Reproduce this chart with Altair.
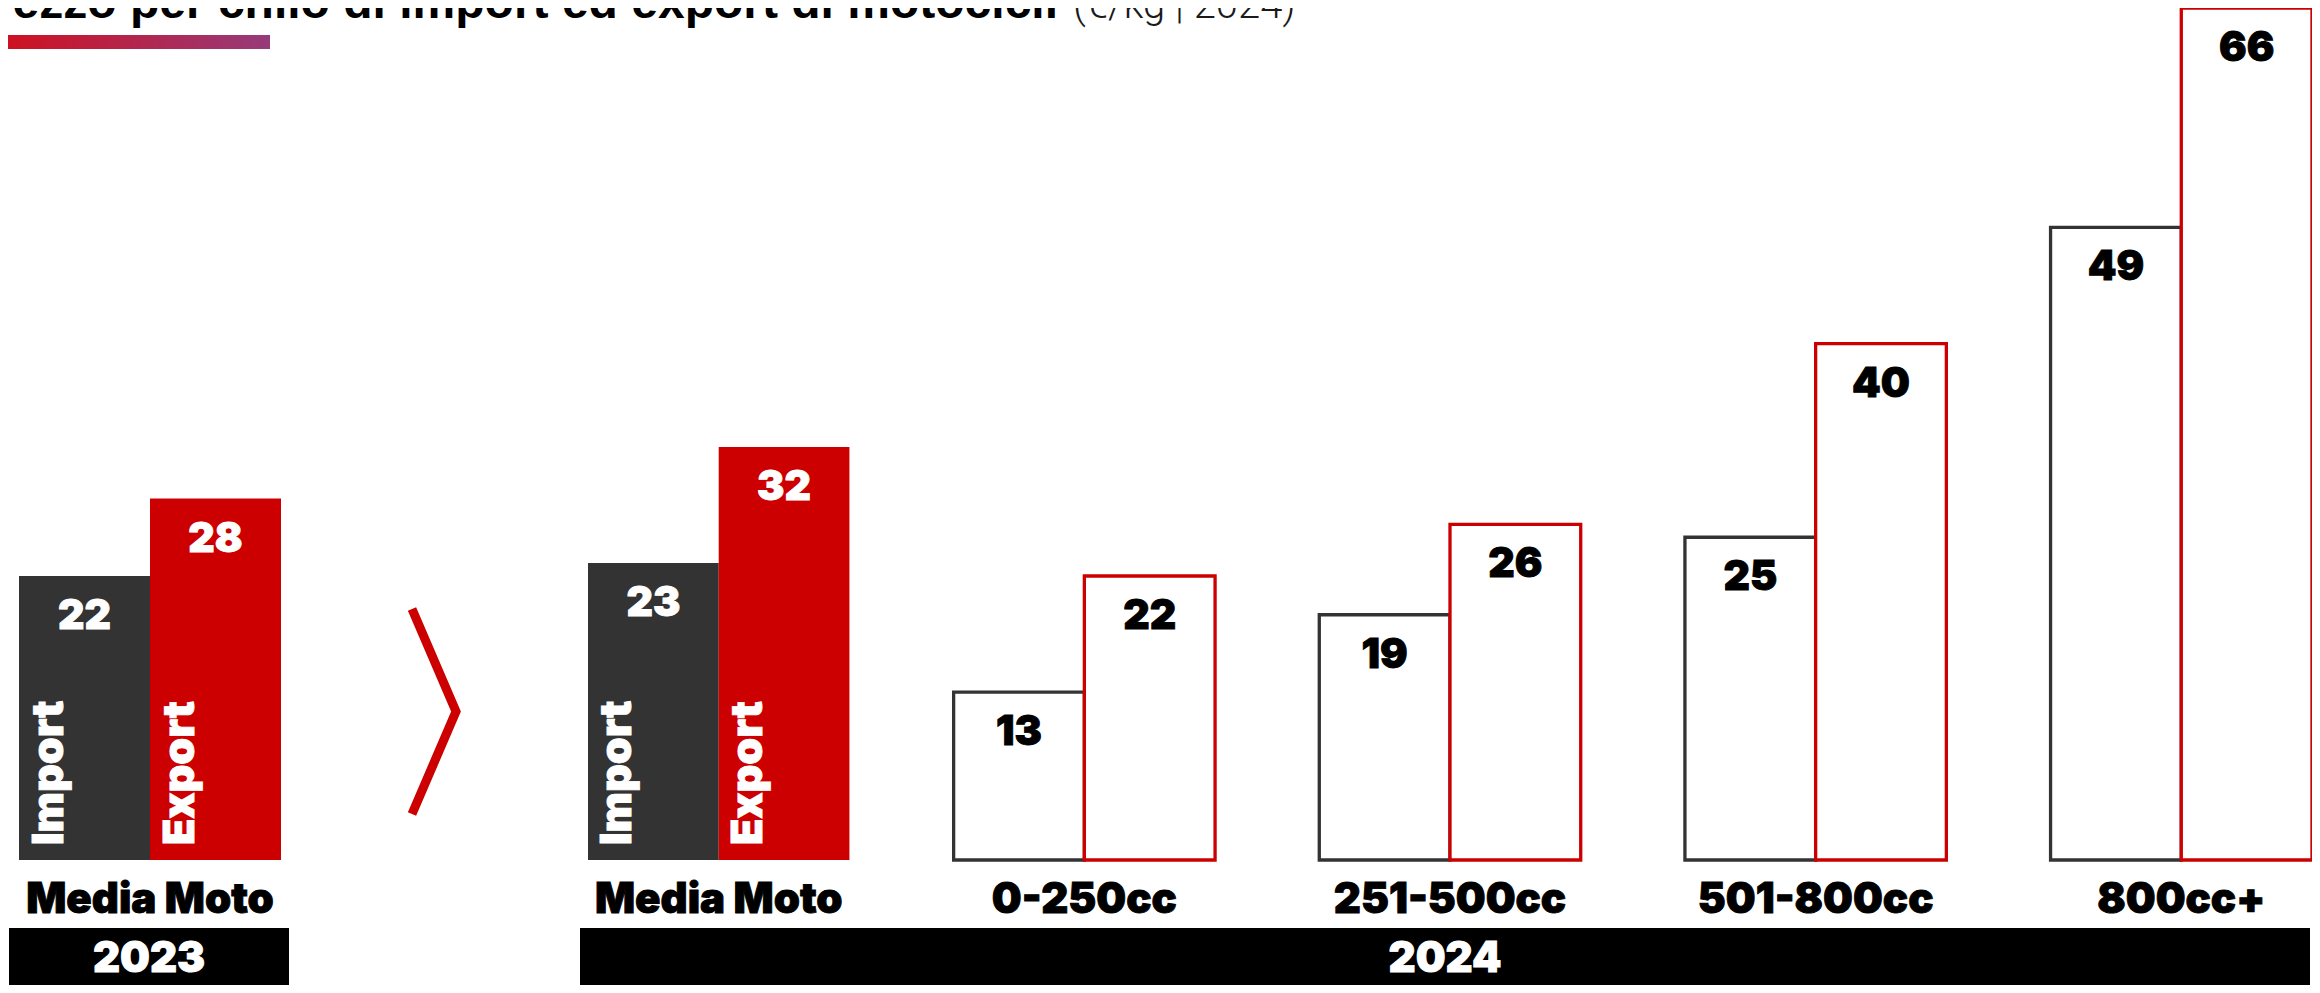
import altair as alt
import pandas as pd

# ---------------- data ----------------
series = ["Import", "Export"]

categories_2023 = ["Media Moto"]
import_2023 = [22]
export_2023 = [28]

categories_2024 = ["Media Moto", "0-250cc", "251-500cc", "501-800cc", "800cc+"]
import_2024 = [23, 13, 19, 25, 49]
export_2024 = [32, 22, 26, 40, 66]

years = ["2023", "2024"]

title_bold = "Prezzo per chilo di import ed export di motocicli"
title_light = "(€/kg | 2024)"

chevron_x = [0, 1, 0]
chevron_y = [0, 0.5, 1]


def make_df(cats, imp, exp):
    rows = []
    for c, i, e in zip(cats, imp, exp):
        rows.append({"category": c, "series": "Import", "value": i})
        rows.append({"category": c, "series": "Export", "value": e})
    return pd.DataFrame(rows)


df23 = make_df(categories_2023, import_2023, export_2023)
df24 = make_df(categories_2024, import_2024, export_2024)

# ---------------- style ----------------
W, H = 2304, 977
BASE = 852
RED = "#cc0000"
DARK = "#333333"
HEAVY = "Inter"
THICK = 0.9

y_scale = alt.Scale(domain=[0, 66], range=[BASE, 0], nice=False, zero=True)
fill_scale = alt.Scale(domain=["Import", "Export", "none"], range=[DARK, RED, "#ffffff"])
stroke_scale = alt.Scale(domain=series, range=[DARK, RED])


def panel(df, cats, x_range, pad_inner):
    xs = alt.Scale(domain=cats, range=x_range, paddingInner=pad_inner, paddingOuter=0)
    xenc = alt.X("category:N", sort=cats, scale=xs, axis=None)
    xoff = alt.XOffset("series:N", sort=series,
                       scale=alt.Scale(domain=series, paddingInner=0, paddingOuter=0))
    base = alt.Chart(df).transform_calculate(
        fillkey="datum.category == 'Media Moto' ? datum.series : 'none'"
    ).encode(x=xenc, xOffset=xoff)

    bars = base.mark_bar(strokeJoin="miter").encode(
        y=alt.Y("value:Q", scale=y_scale, axis=None),
        fill=alt.Fill("fillkey:N", scale=fill_scale, legend=None),
        stroke=alt.Stroke("series:N", scale=stroke_scale, legend=None),
        strokeWidth=alt.condition(alt.datum.category == "Media Moto",
                                  alt.value(0), alt.value(3.3)),
    )
    vals = base.mark_text(font=HEAVY, fontWeight=900, fontSize=41,
                          baseline="alphabetic", dy=53, strokeWidth=THICK).encode(
        y=alt.Y("value:Q", scale=y_scale, axis=None),
        text=alt.Text("value:Q"),
        fill=alt.condition(alt.datum.category == "Media Moto",
                           alt.value("#ffffff"), alt.value("#000000")),
        stroke=alt.condition(alt.datum.category == "Media Moto",
                             alt.value("#ffffff"), alt.value("#000000")),
    )
    names = base.transform_filter(alt.datum.category == "Media Moto").mark_text(
        font=HEAVY, fontWeight=900, fontSize=43, angle=270, align="left",
        baseline="alphabetic", dx=15, dy=-22, fill="#ffffff", stroke="#ffffff",
        strokeWidth=THICK
    ).encode(y=alt.value(BASE), text="series:N")

    cat_df = pd.DataFrame({"category": cats})
    labels = alt.Chart(cat_df).mark_text(
        font=HEAVY, fontWeight=900, fontSize=42, baseline="alphabetic",
        fill="#000000", stroke="#000000", strokeWidth=THICK
    ).encode(x=xenc, y=alt.value(905), text="category:N")
    return alt.layer(bars, vals, names, labels)


layer23 = panel(df23, categories_2023, [11, 273], 0)
layer24 = panel(df24, categories_2024, [580, 2304], 0.285)


# year boxes
def year_box(year, x0, x1):
    d = pd.DataFrame({"year": [year]})
    box = alt.Chart(d).mark_rect(color="#000000").encode(
        x=alt.value(x0), x2=alt.value(x1), y=alt.value(920), y2=alt.value(H))
    txt = alt.Chart(d).mark_text(font=HEAVY, fontWeight=900, fontSize=42,
                                 baseline="alphabetic", fill="#ffffff",
                                 stroke="#ffffff", strokeWidth=THICK).encode(
        x=alt.value((x0 + x1) / 2), y=alt.value(964), text="year:N")
    return box + txt


box23 = year_box(years[0], 1, 281)
box24 = year_box(years[1], 572, 2302)

# chevron
chev_df = pd.DataFrame({"cx": chevron_x, "cy": chevron_y, "idx": [0, 1, 2]})
chevron = alt.Chart(chev_df).mark_line(color=RED, strokeWidth=9, strokeJoin="miter",
                                        strokeCap="butt").encode(
    x=alt.X("cx:Q", scale=alt.Scale(domain=[0, 1], range=[404, 448], nice=False, zero=False), axis=None),
    y=alt.Y("cy:Q", scale=alt.Scale(domain=[0, 1], range=[601, 806], nice=False, zero=False), axis=None),
    order=alt.Order("idx:Q"),
)

# title + gradient bar
one = pd.DataFrame({"t1": [title_bold], "t2": [title_light]})
grad = alt.Chart(one).mark_rect(
    fill=alt.LinearGradient(gradient="linear",
                            stops=[alt.GradientStop(color="#cf1020", offset=0),
                                   alt.GradientStop(color="#963b7a", offset=1)],
                            x1=0, x2=1, y1=0, y2=0)
).encode(x=alt.value(-8), x2=alt.value(262), y=alt.value(27), y2=alt.value(41))

t_bold = alt.Chart(one).mark_text(font="Liberation Sans", fontWeight="bold", fontSize=48,
                                  align="right", baseline="alphabetic", color="#000000").encode(
    x=alt.value(1050), y=alt.value(10), text="t1:N")
t_light = alt.Chart(one).mark_text(font="Roboto", fontWeight=300, fontSize=40,
                                   align="left", baseline="alphabetic", color="#1a1a1a").encode(
    x=alt.value(1065), y=alt.value(10), text="t2:N")

chart = alt.layer(
    layer23, layer24, chevron, box23, box24, grad, t_bold, t_light
).resolve_scale(
    x="independent", xOffset="independent", y="independent"
).properties(
    width=W, height=H, padding=0,
    autosize=alt.AutoSizeParams(type="none"),
    background="#ffffff",
).configure_view(stroke=None)

chart.save("out.html", embed_options={"renderer": "svg", "actions": False})
